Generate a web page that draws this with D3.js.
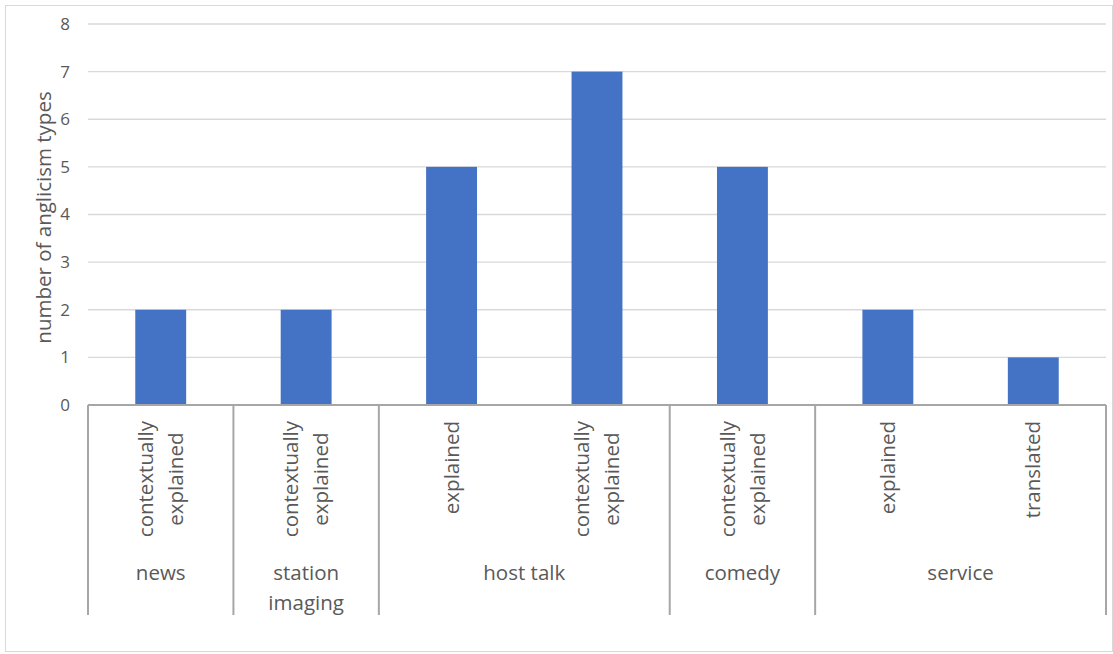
<!DOCTYPE html>
<html>
<head>
<meta charset="utf-8">
<script src="https://cdn.jsdelivr.net/npm/d3@7"></script>
<style>
  body { margin: 0; background: #fff; }
  text { font-family: "Open Sans", "Noto Sans", sans-serif; fill: #595959; }
</style>
</head>
<body>
<div id="chart"></div>
<script>
// categories: each bar belongs to a group (outer axis level)
const groups = ['news', 'station imaging', 'host talk', 'comedy', 'service'];
const barGroups = ['news', 'station imaging', 'host talk', 'host talk', 'comedy', 'service', 'service'];
const barLabels = ['contextually explained', 'contextually explained', 'explained', 'contextually explained',
	'contextually explained', 'explained', 'translated'];
const values = [2, 2, 5, 7, 5, 2, 1];
const yTicks = [0, 1, 2, 3, 4, 5, 6, 7, 8];

const W = 1113, H = 654;
const plot = { left: 88, right: 1106, top: 24, bottom: 405 };

const svg = d3.select('#chart')
	.append('svg')
	.attr('width', W)
	.attr('height', H);

// chart frame
svg.append('rect')
	.attr('x', 5.5).attr('y', 5.5)
	.attr('width', W - 6).attr('height', H - 8)
	.attr('fill', '#fff')
	.attr('stroke', '#d9d9d9');

const x = d3.scaleBand()
	.domain(d3.range(values.length))
	.range([plot.left, plot.right])
	.paddingInner(0.65)
	.paddingOuter(0.325);

const y = d3.scaleLinear()
	.domain([0, 8])
	.range([plot.bottom, plot.top]);

// gridlines
svg.append('g')
	.selectAll('line')
	.data(yTicks.filter(t => t > 0))
	.join('line')
	.attr('x1', plot.left).attr('x2', plot.right)
	.attr('y1', d => y(d)).attr('y2', d => y(d))
	.attr('stroke', '#d9d9d9')
	.attr('stroke-width', 1.3);

// y tick labels
svg.append('g')
	.selectAll('text')
	.data(yTicks)
	.join('text')
	.attr('x', 70)
	.attr('y', d => y(d))
	.attr('dy', '0.35em')
	.attr('text-anchor', 'end')
	.style('font-size', '17px')
	.text(d => d);

// y axis title
svg.append('text')
	.attr('transform', `translate(51, ${(plot.top + plot.bottom) / 2 + 3}) rotate(-90)`)
	.attr('text-anchor', 'middle')
	.style('font-size', '20.5px')
	.text('number of anglicism types');

// bars
svg.append('g')
	.selectAll('rect')
	.data(values)
	.join('rect')
	.attr('x', (d, i) => x(i))
	.attr('width', x.bandwidth())
	.attr('y', d => y(d))
	.attr('height', d => y(0) - y(d))
	.attr('fill', '#4472c4');

// x axis line
svg.append('line')
	.attr('x1', plot.left).attr('x2', plot.right)
	.attr('y1', plot.bottom).attr('y2', plot.bottom)
	.attr('stroke', '#a6a6a6')
	.attr('stroke-width', 2);

// group separators
const step = x.step();
const groupBounds = [];
let start = 0;
barGroups.forEach((g, i) => {
	if (i === barGroups.length - 1 || barGroups[i + 1] !== g) {
		groupBounds.push({ name: g, from: start, to: i + 1 });
		start = i + 1;
	}
});
const sepX = i => plot.left + i * step;

svg.append('g')
	.selectAll('line')
	.data([0].concat(groupBounds.map(g => g.to)))
	.join('line')
	.attr('x1', d => sepX(d)).attr('x2', d => sepX(d))
	.attr('y1', plot.bottom).attr('y2', 615)
	.attr('stroke', '#a6a6a6')
	.attr('stroke-width', 2);

// inner category labels (rotated, block anchored at top)
const labelTop = 421;
const lineH = 30;
barLabels.forEach((lab, i) => {
	const words = lab.split(' ');
	const cx = x(i) + x.bandwidth() / 2;
	const g = svg.append('g');
	const texts = words.map(w => g.append('text')
		.style('font-size', '20.5px')
		.attr('text-anchor', 'middle')
		.text(w));
	const maxLen = d3.max(texts, t => t.node().getComputedTextLength());
	const n = words.length;
	texts.forEach((t, k) => {
		const off = (k - (n - 1) / 2) * lineH;
		t.attr('transform', `translate(${cx + off}, ${labelTop + maxLen / 2}) rotate(-90)`)
			.attr('dy', '0.35em');
	});
});

// group labels
groupBounds.forEach(gb => {
	const cx = (sepX(gb.from) + sepX(gb.to)) / 2;
	const words = gb.name === 'station imaging' ? ['station', 'imaging'] : [gb.name];
	words.forEach((w, k) => {
		svg.append('text')
			.attr('x', cx)
			.attr('y', 580 + k * 30)
			.attr('text-anchor', 'middle')
			.style('font-size', '20.5px')
			.text(w);
	});
});
</script>
</body>
</html>
